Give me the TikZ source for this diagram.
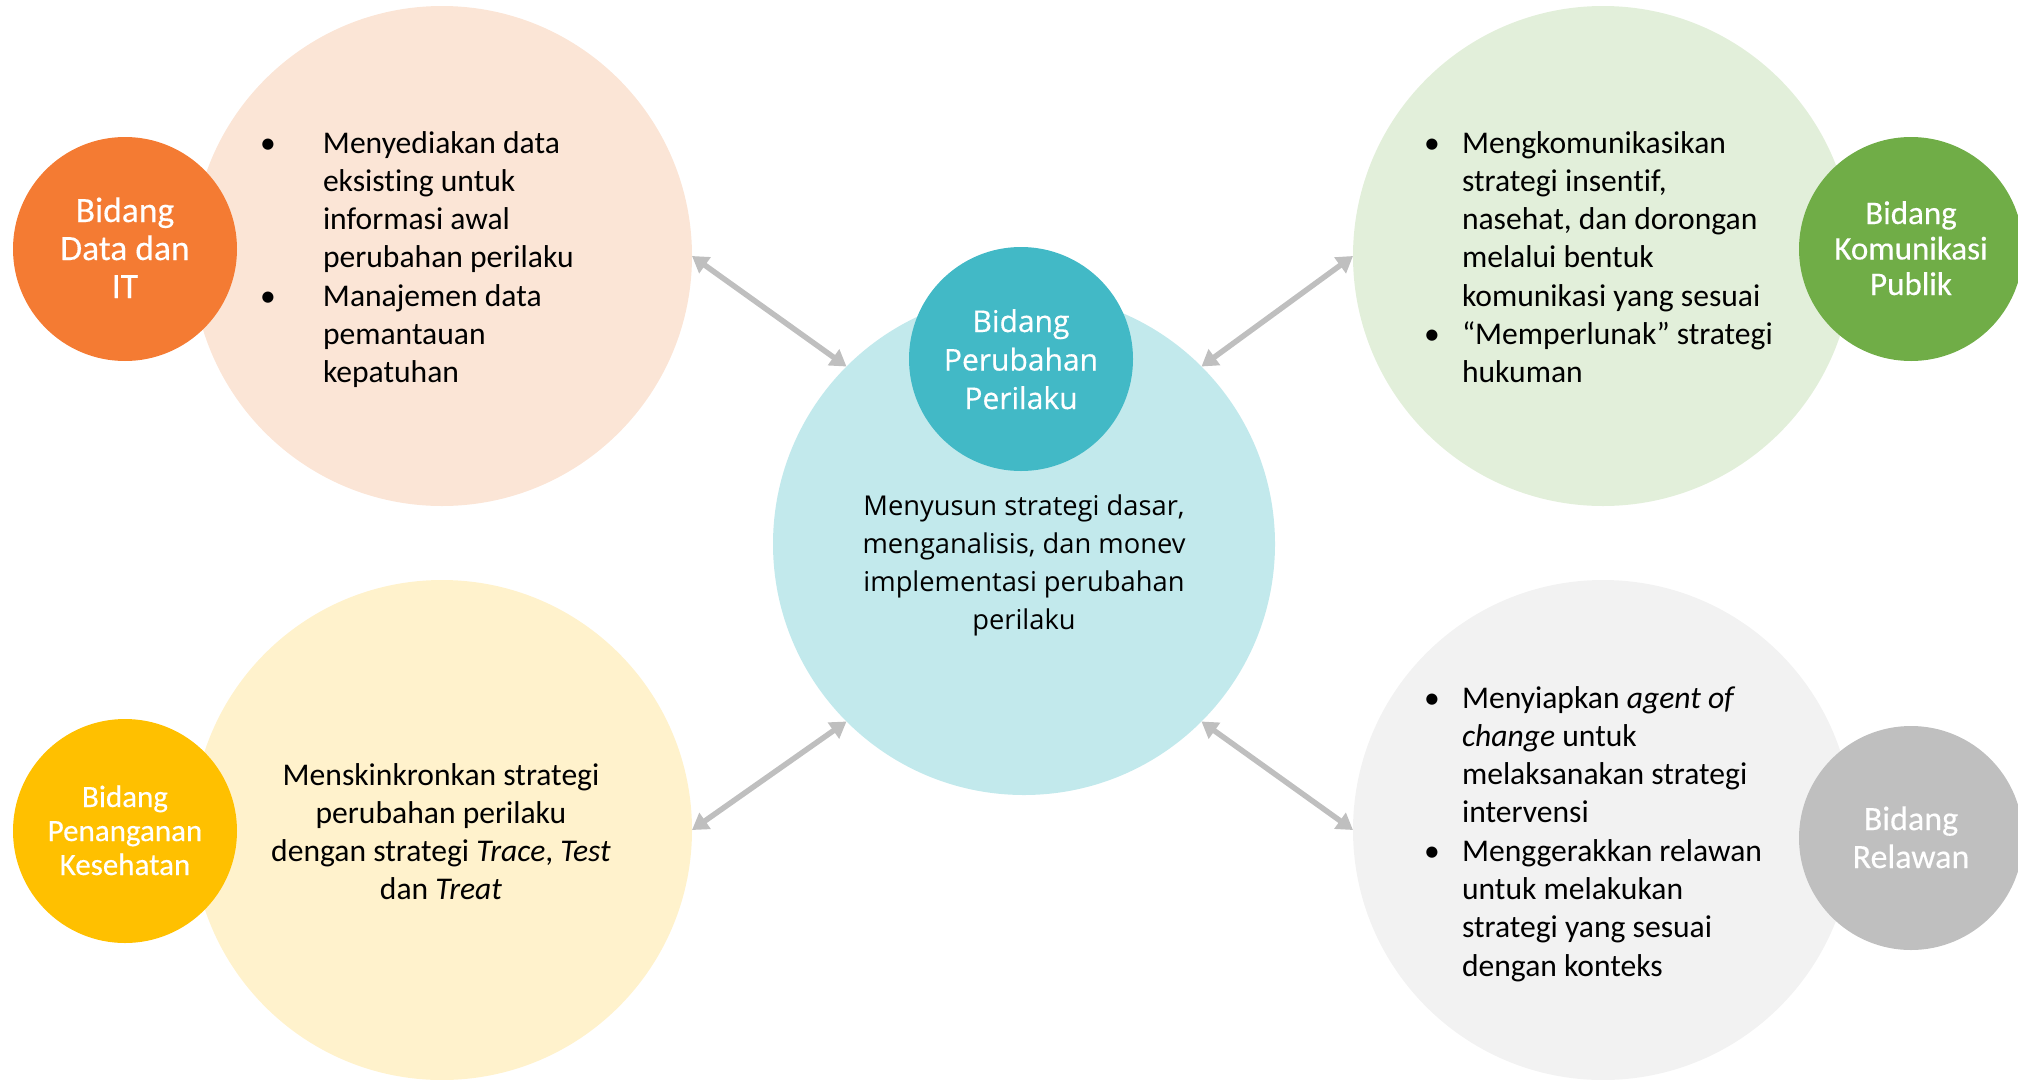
\documentclass[tikz,border=0pt]{standalone}
\usepackage{fontspec}
\setmainfont[Ligatures={NoCommon}]{Carlito}
\newfontfamily\lblfont[Ligatures={NoCommon},FakeBold=0.3]{Carlito}
\newfontfamily\segoe{Open Sans}
\newfontfamily\segoesb[FakeBold=0.4]{Open Sans}
\usetikzlibrary{arrows.meta}
\definecolor{cOrange}{HTML}{F47B33}
\definecolor{cPeach}{HTML}{FBE5D6}
\definecolor{cTeal}{HTML}{42B9C6}
\definecolor{cLTeal}{HTML}{C2E9EC}
\definecolor{cGreen}{HTML}{70AD47}
\definecolor{cLGreen}{HTML}{E2EFDA}
\definecolor{cYellow}{HTML}{FFC000}
\definecolor{cLYellow}{HTML}{FFF2CC}
\definecolor{cGray}{HTML}{BFBFBF}
\definecolor{cLGray}{HTML}{F2F2F2}
\definecolor{cArrow}{HTML}{BFBFBF}
\newcommand\bitem[1]{\noindent\llap{\makebox[0pt]{•}\hspace{#1}}}
\newcommand\bodyfont{\fontsize{31.6}{38.3}\selectfont}
\begin{document}
\begin{tikzpicture}[x=1pt,y=-1pt,
  big/.style={circle, minimum size=500pt, inner sep=0pt, outer sep=0pt},
  small/.style={circle, minimum size=224pt, inner sep=0pt, outer sep=0pt},
  lbl/.style={anchor=base, inner sep=0pt, outer sep=0pt, text=white},
  body/.style={anchor=base west, inner sep=0pt, outer sep=0pt, font=\bodyfont},
  bodyc/.style={anchor=base, inner sep=0pt, outer sep=0pt},
  link/.style={draw=cArrow, line width=5.5pt,
    {Triangle[length=16pt,width=19pt]}-{Triangle[length=16pt,width=19pt]}}
]
\useasboundingbox (0,0) rectangle (2018,1079);
% big circles
\node[big, fill=cPeach] (tl) at (442,256) {};
\node[big, fill=cLGreen] (tr) at (1603,256) {};
\node[big, fill=cLYellow] (bl) at (442,830) {};
\node[big, fill=cLGray] (br) at (1603,830) {};
\node[big, minimum size=502pt, fill=cLTeal] (ctr) at (1024,544) {};
% small circles
\node[small, fill=cOrange] (data) at (125,249) {};
\node[small, fill=cGreen] (kom) at (1911,249) {};
\node[small, fill=cYellow] (kes) at (125,831) {};
\node[small, fill=cGray] (rel) at (1911,838) {};
\node[small, fill=cTeal] (pp) at (1021,359) {};
% connectors
\draw[link] (tl.east) -- (ctr.135);
\draw[link] (tr.west) -- (ctr.45);
\draw[link] (bl.east) -- (ctr.225);
\draw[link] (br.west) -- (ctr.315);
% labels in small circles
\node[lbl, font=\lblfont\fontsize{35.5}{38}\selectfont] (dataL) at (125,222)
  {\parbox[t]{220pt}{\centering Bidang\\Data dan\\IT}};
\node[lbl, font=\lblfont\fontsize{33}{35.5}\selectfont] (komL) at (1911,224)
  {\parbox[t]{220pt}{\centering Bidang\\Komunikasi\\Publik}};
\node[lbl, font=\lblfont\fontsize{31}{34}\selectfont] (kesL) at (125,807)
  {\parbox[t]{220pt}{\centering Bidang\\Penanganan\\Kesehatan}};
\node[lbl, font=\lblfont\fontsize{34}{38}\selectfont] (relL) at (1911,830)
  {\parbox[t]{220pt}{\centering Bidang\\Relawan}};
\node[lbl, font=\segoesb\fontsize{30}{38.5}\selectfont] (ppL) at (1021,332)
  {\parbox[t]{220pt}{\centering Bidang\\Perubahan\\Perilaku}};
% body texts
\node[body] (tlT) at (323,153) {\parbox[t]{400pt}{\raggedright
  \bitem{55pt}Menyediakan data\\eksisting untuk\\informasi awal\\perubahan perilaku\par
  \bitem{55pt}Manajemen data\\pemantauan\\kepatuhan}};
\node[body] (trT) at (1462,153) {\parbox[t]{400pt}{\raggedright
  \bitem{30pt}Mengkomunikasikan\\strategi insentif,\\nasehat, dan dorongan\\melalui bentuk\\komunikasi yang sesuai\par
  \bitem{30pt}“Memperlunak” strategi\\hukuman}};
\node[body] (brT) at (1462,708) {\parbox[t]{400pt}{\raggedright
  \bitem{30pt}Menyiapkan \textit{agent of}\\\textit{change} untuk\\melaksanakan strategi\\intervensi\par
  \bitem{30pt}Menggerakkan relawan\\untuk melakukan\\strategi yang sesuai\\dengan konteks}};
\node[bodyc, font=\bodyfont] (blT) at (441,785) {\parbox[t]{440pt}{\centering
  Menskinkronkan strategi\\perubahan perilaku\\dengan strategi \textit{Trace}, \textit{Test}\\dan \textit{Treat}}};
\node[bodyc, font=\segoe\fontsize{27.3}{38.2}\selectfont] (ctrT) at (1024,515) {\parbox[t]{460pt}{\centering
  Menyusun strategi dasar,\\menganalisis, dan monev\\implementasi perubahan\\perilaku}};
\end{tikzpicture}
\end{document}
